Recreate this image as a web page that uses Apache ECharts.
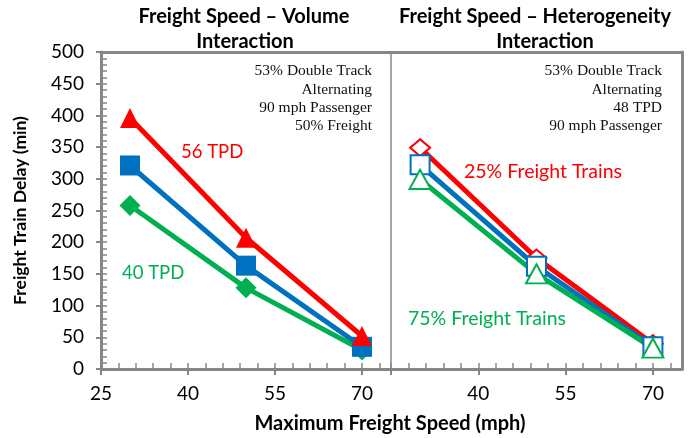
<!DOCTYPE html>
<html>
<head>
<meta charset="utf-8">
<script src="https://cdn.jsdelivr.net/npm/echarts@6/dist/echarts.min.js"></script>
<style>
  html, body { margin: 0; padding: 0; background: #fff; }
  #chart { width: 693px; height: 438px; }
</style>
</head>
<body>
<div id="chart"></div>
<script>
// Maximum freight speed (mph) for each run
const speedMph = [30, 50, 70];

// Left panel: freight train delay (min) by traffic volume
const delay56TPD = [396, 207, 52];
const delay48TPD = [321, 163, 35];
const delay40TPD = [258, 128, 30];

// Right panel: freight train delay (min) by share of freight trains
const delay25Freight = [349, 175, 40];
const delay50Freight = [322, 162, 35];
const delay75Freight = [299, 150, 33];

// Axis ticks
const xMajorTicks = [25, 40, 55, 70];
const xMajorTicksRight = [40, 55, 70];
const xMinorTicks = [25, 28, 31, 34, 37, 40, 43, 46, 49, 52, 55, 58, 61, 64, 67, 70, 73];
const yMinorTicks = [];
for (let v = 0; v <= 500; v += 10) yMinorTicks.push(v);

const RED = '#FF0000', BLUE = '#0070C0', GREEN = '#00B050', AXIS = '#868686';
const SANS = 'Lato, "Open Sans", sans-serif';
const SERIF = '"Liberation Serif", "DejaVu Serif", serif';

const pair = (xs, ys) => xs.map((x, i) => [x, ys[i]]);

function xAxes(gridIndex, labelValues, tickValues) {
  return [
    { // main axis with labels and outward major ticks
      gridIndex, type: 'value', position: 'bottom', min: 25, max: 75,
      axisLine: { show: true, lineStyle: { color: AXIS, width: 3 } },
      axisTick: { show: true, inside: false, length: 6, customValues: tickValues, lineStyle: { color: AXIS, width: 2 } },
      axisLabel: { show: true, customValues: labelValues, margin: 15, fontFamily: SANS, fontSize: 19, color: '#000' },
      splitLine: { show: false }
    },
    { // inward minor ticks every 3 mph
      gridIndex, type: 'value', position: 'bottom', min: 25, max: 75,
      axisLine: { show: false },
      axisTick: { show: true, inside: true, length: 6, customValues: xMinorTicks, lineStyle: { color: AXIS, width: 1.5 } },
      axisLabel: { show: false }, splitLine: { show: false }
    },
    { // top frame
      gridIndex, type: 'value', position: 'top', min: 25, max: 75,
      axisLine: { show: true, lineStyle: { color: AXIS, width: 3 } },
      axisTick: { show: false }, axisLabel: { show: false }, splitLine: { show: false }
    }
  ];
}

const option = {
  animation: false,
  backgroundColor: '#fff',
  grid: [
    { left: 101, top: 52, width: 290, height: 317 },
    { left: 391, top: 52, width: 291, height: 317 }
  ],
  xAxis: [
    ...xAxes(0, xMajorTicks, xMajorTicks),
    ...xAxes(1, xMajorTicksRight, xMajorTicks)
  ],
  yAxis: [
    { // delay axis with labels and outward major ticks
      gridIndex: 0, type: 'value', position: 'left', min: 0, max: 500, interval: 50,
      name: 'Freight Train Delay (min)', nameLocation: 'middle', nameGap: 72,
      nameTextStyle: { fontFamily: SANS, fontWeight: 'bold', fontSize: 17.5, color: '#000' },
      axisLine: { show: true, lineStyle: { color: AXIS, width: 3 } },
      axisTick: { show: true, inside: false, length: 5, lineStyle: { color: AXIS, width: 2 } },
      axisLabel: { margin: 17, fontFamily: SANS, fontSize: 19, color: '#000' },
      splitLine: { show: false }
    },
    { // inward minor ticks every 10 min
      gridIndex: 0, type: 'value', position: 'left', min: 0, max: 500,
      axisLine: { show: false },
      axisTick: { show: true, inside: true, length: 6, customValues: yMinorTicks, lineStyle: { color: AXIS, width: 1.5 } },
      axisLabel: { show: false }, splitLine: { show: false }
    },
    { // divider between the two panels
      gridIndex: 1, type: 'value', position: 'left', min: 0, max: 500,
      axisLine: { show: true, lineStyle: { color: AXIS, width: 1.5 } },
      axisTick: { show: false }, axisLabel: { show: false }, splitLine: { show: false }
    },
    { // right frame
      gridIndex: 1, type: 'value', position: 'right', min: 0, max: 500,
      axisLine: { show: true, lineStyle: { color: AXIS, width: 3 } },
      axisTick: { show: false }, axisLabel: { show: false }, splitLine: { show: false }
    }
  ],
  series: [
    {
      name: '40 TPD', type: 'line', xAxisIndex: 0, yAxisIndex: 0,
      data: pair(speedMph, delay40TPD), symbol: 'diamond', symbolSize: [21, 21],
      lineStyle: { color: GREEN, width: 5 }, itemStyle: { color: GREEN }
    },
    {
      name: '48 TPD', type: 'line', xAxisIndex: 0, yAxisIndex: 0,
      data: pair(speedMph, delay48TPD), symbol: 'rect', symbolSize: [20, 20],
      lineStyle: { color: BLUE, width: 5 }, itemStyle: { color: BLUE }
    },
    {
      name: '56 TPD', type: 'line', xAxisIndex: 0, yAxisIndex: 0,
      data: pair(speedMph, delay56TPD), symbol: 'triangle', symbolSize: [20, 20],
      lineStyle: { color: RED, width: 5 }, itemStyle: { color: RED }
    },
    {
      name: '25% Freight Trains', type: 'line', xAxisIndex: 3, yAxisIndex: 2,
      data: pair(speedMph, delay25Freight), symbol: 'diamond', symbolSize: [20, 17],
      lineStyle: { color: RED, width: 5 }, itemStyle: { color: '#fff', borderColor: RED, borderWidth: 2 }
    },
    {
      name: '50% Freight Trains', type: 'line', xAxisIndex: 3, yAxisIndex: 2,
      data: pair(speedMph, delay50Freight), symbol: 'rect', symbolSize: [19, 19],
      lineStyle: { color: BLUE, width: 5 }, itemStyle: { color: '#fff', borderColor: BLUE, borderWidth: 2 }
    },
    {
      name: '75% Freight Trains', type: 'line', xAxisIndex: 3, yAxisIndex: 2,
      data: pair(speedMph, delay75Freight), symbol: 'triangle', symbolSize: [21, 19],
      lineStyle: { color: GREEN, width: 5 }, itemStyle: { color: '#fff', borderColor: GREEN, borderWidth: 2 }
    }
  ],
  graphic: [
    // panel titles
    { type: 'text', x: 244, y: 17, style: { text: 'Freight Speed – Volume', font: 'bold 20px ' + SANS, fill: '#000', align: 'center', verticalAlign: 'middle' } },
    { type: 'text', x: 245, y: 42, style: { text: 'Interaction', font: 'bold 20px ' + SANS, fill: '#000', align: 'center', verticalAlign: 'middle' } },
    { type: 'text', x: 535, y: 17, style: { text: 'Freight Speed – Heterogeneity', font: 'bold 20px ' + SANS, fill: '#000', align: 'center', verticalAlign: 'middle' } },
    { type: 'text', x: 545, y: 42, style: { text: 'Interaction', font: 'bold 20px ' + SANS, fill: '#000', align: 'center', verticalAlign: 'middle' } },
    // scenario notes
    { type: 'text', x: 372, y: 62, style: { text: '53% Double Track\nAlternating\n90 mph Passenger\n50% Freight', font: '15.5px ' + SERIF, lineHeight: 18.3, fill: '#111', align: 'right' } },
    { type: 'text', x: 662, y: 62, style: { text: '53% Double Track\nAlternating\n48 TPD\n90 mph Passenger', font: '15.5px ' + SERIF, lineHeight: 18.3, fill: '#111', align: 'right' } },
    // series labels
    { type: 'text', x: 181, y: 152, style: { text: '56 TPD', font: '18.5px ' + SANS, fill: RED, verticalAlign: 'middle' } },
    { type: 'text', x: 122, y: 273, style: { text: '40 TPD', font: '18.5px ' + SANS, fill: GREEN, verticalAlign: 'middle' } },
    { type: 'text', x: 464, y: 172, style: { text: '25% Freight Trains', font: '19.5px ' + SANS, fill: RED, verticalAlign: 'middle' } },
    { type: 'text', x: 408, y: 319, style: { text: '75% Freight Trains', font: '19.5px ' + SANS, fill: GREEN, verticalAlign: 'middle' } },
    // shared x-axis title
    { type: 'text', x: 390, y: 424, style: { text: 'Maximum Freight Speed (mph)', font: 'bold 20px ' + SANS, fill: '#000', align: 'center', verticalAlign: 'middle' } }
  ]
};

const chart = echarts.init(document.getElementById('chart'), null, { renderer: 'canvas' });
chart.setOption(option);
</script>
</body>
</html>
